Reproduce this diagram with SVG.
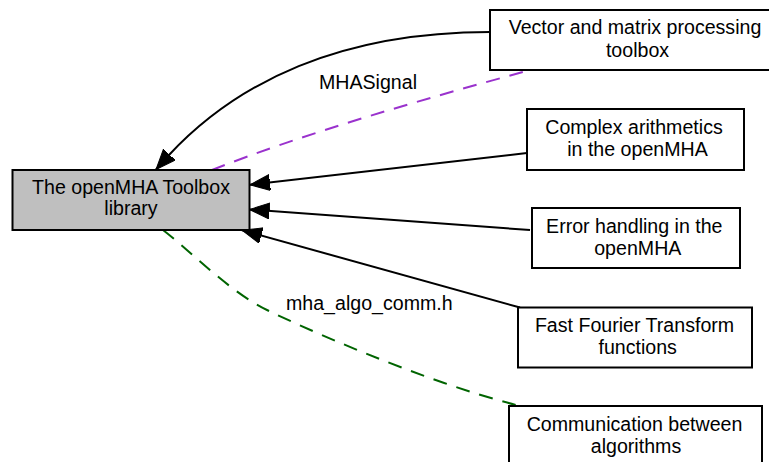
<svg xmlns="http://www.w3.org/2000/svg" width="769" height="462" viewBox="0 0 769 462">
<style>
  .box { fill: #ffffff; stroke: #000000; stroke-width: 2; }
  .main { fill: #bfbfbf; stroke: #000000; stroke-width: 2; }
  text { font-family: "Liberation Sans", Arial, Helvetica, sans-serif; font-size: 19.6px; fill: #000000; text-anchor: middle; }
  .lbl { text-anchor: start; }
  .edge { fill: none; stroke: #000000; stroke-width: 2; }
  .purple { fill: none; stroke: #9a32cd; stroke-width: 2; stroke-dasharray: 14,10; }
  .green { fill: none; stroke: #006400; stroke-width: 2; stroke-dasharray: 14,10; }
</style>
<defs>
  <marker id="arrow" markerUnits="userSpaceOnUse" markerWidth="22" markerHeight="18" refX="20" refY="8" orient="auto">
    <polygon points="0,0 20,8 0,16" fill="#000000" stroke="#000000" stroke-width="1"/>
  </marker>
</defs>
<rect width="769" height="462" fill="#ffffff"/>
<g id="connectors">
  <path class="edge" d="M490,32 C340,32 237,82 169,155 L156,169.5" marker-end="url(#arrow)"/>
  <path class="edge" d="M527,153 L250,184.8" marker-end="url(#arrow)"/>
  <path class="edge" d="M530,230 L249.5,209.5" marker-end="url(#arrow)"/>
  <path class="edge" d="M520,307.5 L242,230.2" marker-end="url(#arrow)"/>
  <path class="purple" d="M212,170 C300,135 420,100 523,72"/>
  <path class="green" d="M163,230 C195,255 230,292 267,310 S420,380 516,405"/>
  <text class="lbl" x="319" y="89">MHASignal</text>
  <text class="lbl" x="286" y="310">mha_algo_comm.h</text>
</g>
<g id="node-main">
  <rect class="main" x="12.5" y="170" width="237" height="60"/>
  <text x="131" y="193.5">The openMHA Toolbox</text>
  <text x="131" y="215">library</text>
</g>
<g id="node-vector">
  <rect class="box" x="490" y="10" width="290" height="60"/>
  <text x="635" y="34">Vector and matrix processing</text>
  <text x="637.5" y="56.5">toolbox</text>
</g>
<g id="node-complex">
  <rect class="box" x="527" y="109" width="217" height="61"/>
  <text x="634" y="133.5">Complex arithmetics</text>
  <text x="637.5" y="156">in the openMHA</text>
</g>
<g id="node-error">
  <rect class="box" x="532" y="208" width="208" height="60"/>
  <text x="634.3" y="232.5">Error handling in the</text>
  <text x="637.8" y="255">openMHA</text>
</g>
<g id="node-fft">
  <rect class="box" x="518" y="307.5" width="234" height="60"/>
  <text x="634.5" y="331.5">Fast Fourier Transform</text>
  <text x="637.7" y="353.5">functions</text>
</g>
<g id="node-comm">
  <rect class="box" x="509" y="406" width="253" height="60"/>
  <text x="634.5" y="431">Communication between</text>
  <text x="636" y="452.5">algorithms</text>
</g>
</svg>
